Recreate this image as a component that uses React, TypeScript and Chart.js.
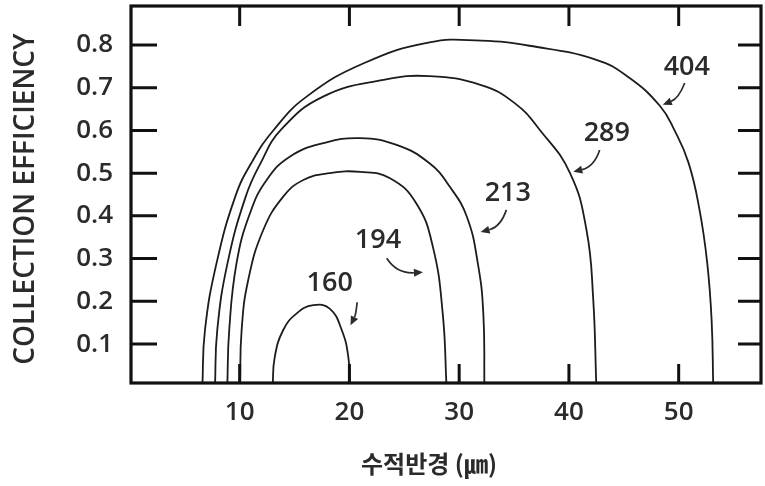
import React, { useEffect, useRef } from "react";
import { Chart, registerables } from "chart.js";

Chart.register(...registerables);

// ---- data ----
const SERIES_NAMES = ["404", "289", "213", "194", "160"];

const X_404 = [6.6, 6.84, 7.9, 9.6, 11.05, 13.1, 16.1, 21.3, 27.3, 32.0, 36.4, 42.5, 45.5, 48.3, 49.6, 50.9, 51.9, 52.6, 53.0, 53.15];
const Y_404 = [0.0, 0.133, 0.29, 0.445, 0.523, 0.601, 0.679, 0.757, 0.806, 0.81, 0.798, 0.765, 0.723, 0.657, 0.601, 0.524, 0.414, 0.29, 0.156, 0.0];

const X_289 = [7.75, 7.96, 8.9, 10.55, 11.9, 13.75, 17.6, 23.1, 27.3, 32.0, 35.0, 37.35, 40.1, 41.6, 42.2, 42.5];
const Y_289 = [0.0, 0.133, 0.29, 0.445, 0.523, 0.601, 0.679, 0.718, 0.727, 0.706, 0.665, 0.601, 0.5, 0.367, 0.211, 0.0];

const X_213 = [8.87, 9.05, 9.72, 10.94, 12.46, 14.6, 17.6, 20.95, 24.3, 27.3, 29.15, 30.7, 31.7, 32.2, 32.3];
const Y_213 = [0.0, 0.133, 0.29, 0.406, 0.484, 0.539, 0.57, 0.582, 0.566, 0.523, 0.468, 0.398, 0.289, 0.172, 0.0];

const X_194 = [10.03, 10.18, 10.78, 12.15, 13.97, 15.8, 18.2, 21.0, 23.7, 26.1, 27.6, 28.5, 28.85];
const Y_194 = [0.0, 0.133, 0.25, 0.367, 0.445, 0.484, 0.5, 0.503, 0.488, 0.429, 0.328, 0.172, 0.0];

const X_160 = [13.0, 13.2, 13.97, 15.2, 16.7, 18.2, 19.3, 19.9, 20.05];
const Y_160 = [0.0, 0.07, 0.133, 0.172, 0.191, 0.183, 0.133, 0.07, 0.0];

const X_TICKS = [10, 20, 30, 40, 50];
const Y_TICKS = [0.1, 0.2, 0.3, 0.4, 0.5, 0.6, 0.7, 0.8];

const X_TITLE = "수적반경 (㎛)";
const Y_TITLE = "COLLECTION EFFICIENCY";

const SERIES_X = [X_404, X_289, X_213, X_194, X_160];
const SERIES_Y = [Y_404, Y_289, Y_213, Y_194, Y_160];

// label annotations (data coordinates): text position, arrow start, control, end
const ANNOTATIONS = [
  { text: "404", at: [50.74, 0.748], from: [50.55, 0.711], ctrl: [50.0, 0.675], to: [48.55, 0.66] },
  { text: "289", at: [43.45, 0.594], from: [42.8, 0.554], ctrl: [42.3, 0.515], to: [40.4, 0.503] },
  { text: "213", at: [34.43, 0.453], from: [34.3, 0.414], ctrl: [33.8, 0.375], to: [31.95, 0.362] },
  { text: "194", at: [22.6, 0.343], from: [23.4, 0.301], ctrl: [24.3, 0.265], to: [26.7, 0.268] },
  { text: "160", at: [18.2, 0.243], from: [20.7, 0.198], ctrl: [20.6, 0.17], to: [20.1, 0.144] },
];

const INK = "#1c1c1c";
const TEXT = "#2b2b2b";
const FONT = "'Open Sans', 'Noto Sans', sans-serif";

const framePlugin = {
  id: "framePlugin",
  afterDatasetsDraw(chart: any) {
    const { ctx, chartArea: a, scales } = chart;
    const xs = scales.x;
    const ys = scales.y;
    ctx.save();
    // annotations
    ctx.fillStyle = TEXT;
    ctx.strokeStyle = TEXT;
    ctx.font = `600 27px ${FONT}`;
    ctx.textAlign = "center";
    ctx.textBaseline = "middle";
    ANNOTATIONS.forEach((an) => {
      const tx = xs.getPixelForValue(an.at[0]);
      const ty = ys.getPixelForValue(an.at[1]);
      ctx.fillText(an.text, tx, ty);
      const x0 = xs.getPixelForValue(an.from[0]);
      const y0 = ys.getPixelForValue(an.from[1]);
      const cx = xs.getPixelForValue(an.ctrl[0]);
      const cy = ys.getPixelForValue(an.ctrl[1]);
      const x1 = xs.getPixelForValue(an.to[0]);
      const y1 = ys.getPixelForValue(an.to[1]);
      const ang = Math.atan2(y1 - cy, x1 - cx);
      const hl = 9;
      const hw = 4;
      const bx = x1 - Math.cos(ang) * hl;
      const by = y1 - Math.sin(ang) * hl;
      ctx.lineWidth = 1.7;
      ctx.beginPath();
      ctx.moveTo(x0, y0);
      ctx.quadraticCurveTo(cx, cy, bx, by);
      ctx.stroke();
      ctx.beginPath();
      ctx.moveTo(x1, y1);
      ctx.lineTo(bx + Math.sin(ang) * hw, by - Math.cos(ang) * hw);
      ctx.lineTo(bx - Math.sin(ang) * hw, by + Math.cos(ang) * hw);
      ctx.closePath();
      ctx.fill();
    });
    // frame
    ctx.strokeStyle = "#111";
    ctx.lineWidth = 3.2;
    ctx.strokeRect(a.left, a.top, a.right - a.left, a.bottom - a.top);
    // inward ticks
    ctx.lineWidth = 3;
    X_TICKS.forEach((v) => {
      const px = xs.getPixelForValue(v);
      ctx.beginPath();
      ctx.moveTo(px, a.bottom);
      ctx.lineTo(px, a.bottom - 19);
      ctx.moveTo(px, a.top);
      ctx.lineTo(px, a.top + 20);
      ctx.stroke();
    });
    Y_TICKS.forEach((v) => {
      const py = ys.getPixelForValue(v);
      ctx.beginPath();
      ctx.moveTo(a.left, py);
      ctx.lineTo(a.left + 26, py);
      ctx.moveTo(a.right, py);
      ctx.lineTo(a.right - 23, py);
      ctx.stroke();
    });
    // axis titles
    ctx.fillStyle = TEXT;
    ctx.textAlign = "center";
    ctx.textBaseline = "middle";
    ctx.font = `600 24px 'Noto Sans CJK KR', ${FONT}`;
    ctx.fillText(X_TITLE, 429, 464);
    ctx.save();
    ctx.translate(26, 199);
    ctx.rotate(-Math.PI / 2);
    ctx.font = `600 28px ${FONT}`;
    ctx.fillText(Y_TITLE, 0, 0);
    ctx.restore();
    ctx.restore();
  },
};

export default function App() {
  const ref = useRef<HTMLCanvasElement | null>(null);
  useEffect(() => {
    document.body.style.margin = "0";
    if (!ref.current) return;
    const datasets = SERIES_NAMES.map((name, i) => ({
      label: name,
      data: SERIES_X[i].map((x, j) => ({ x, y: SERIES_Y[i][j] })),
      showLine: true,
      borderColor: INK,
      borderWidth: 1.8,
      pointRadius: 0,
      tension: 0.45,
      fill: false,
    }));
    const chart = new Chart(ref.current, {
      type: "scatter",
      data: { datasets },
      options: {
        animation: false,
        responsive: false,
        devicePixelRatio: 1,
        layout: { padding: { left: 0, top: 6, right: 4, bottom: 0 } },
        plugins: { legend: { display: false }, tooltip: { enabled: false } },
        scales: {
          x: {
            type: "linear",
            min: 0.1,
            max: 57.5,
            afterBuildTicks: (s: any) => {
              s.ticks = X_TICKS.map((v) => ({ value: v }));
            },
            afterFit: (s: any) => {
              s.height = 103;
              s.paddingLeft = 0;
              s.paddingRight = 0;
              s.paddingTop = 0;
              s.paddingBottom = 0;
            },
            grid: { display: false, drawTicks: false },
            border: { display: false },
            ticks: {
              padding: 14,
              color: TEXT,
              font: { family: FONT, size: 26, weight: "600" },
              maxRotation: 0,
              autoSkip: false,
            },
          },
          y: {
            type: "linear",
            min: 0.009,
            max: 0.891,
            afterBuildTicks: (s: any) => {
              s.ticks = Y_TICKS.map((v) => ({ value: v }));
            },
            afterFit: (s: any) => {
              s.width = 131;
              s.paddingLeft = 0;
              s.paddingRight = 0;
              s.paddingTop = 0;
              s.paddingBottom = 0;
            },
            grid: { display: false, drawTicks: false },
            border: { display: false },
            ticks: {
              padding: 18,
              color: TEXT,
              font: { family: FONT, size: 26, weight: "600" },
              autoSkip: false,
              callback: (v: any) => Number(v).toFixed(1),
            },
          },
        },
      },
      plugins: [framePlugin],
    });
    return () => chart.destroy();
  }, []);
  return (
    <div style={{ width: 765, height: 486, background: "#fff" }}>
      <canvas ref={ref} width={765} height={486} style={{ display: "block" }} />
    </div>
  );
}
